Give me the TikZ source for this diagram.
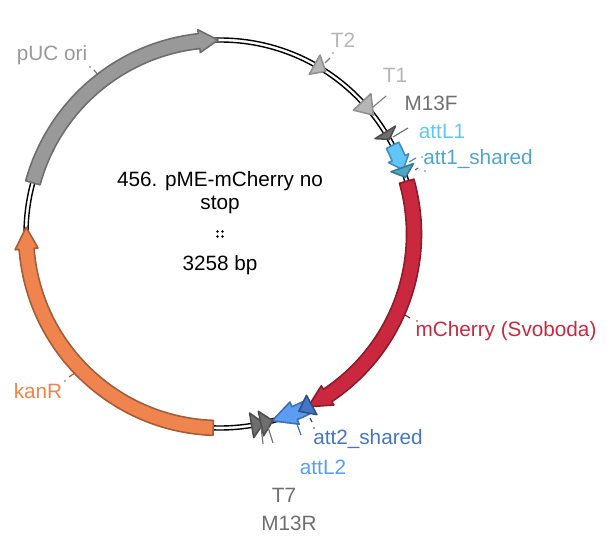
\documentclass[tikz,border=0pt]{standalone}
\usepackage{fontspec}
\setmainfont{Liberation Sans}
\definecolor{pucfill}{HTML}{999999}
\definecolor{pucedge}{HTML}{6E6E6E}
\definecolor{kanfill}{HTML}{EF844F}
\definecolor{kanedge}{HTML}{A55C38}
\definecolor{cherryfill}{HTML}{C9283F}
\definecolor{cherryedge}{HTML}{8C1C2C}
\definecolor{lonefill}{HTML}{62C6FB}
\definecolor{loneedge}{HTML}{3F8FB8}
\definecolor{oneshfill}{HTML}{4FA5C9}
\definecolor{oneshedge}{HTML}{3A7A95}
\definecolor{ltwofill}{HTML}{5B9DF3}
\definecolor{ltwoedge}{HTML}{3F6FAE}
\definecolor{twoshfill}{HTML}{4476C4}
\definecolor{twoshedge}{HTML}{2D5088}
\definecolor{termfill}{HTML}{B5B5B5}
\definecolor{primerfill}{HTML}{6F6F6F}
\tikzset{
	maplabel/.style={font=\fontsize{11.8}{13}\selectfont, inner sep=0pt},
	leader/.style={line width=0.65pt},
	feature/.style={line width=0.9pt, line join=round},
}
% arc arrow: style, tail angle, head base angle, tip angle, half band, half head
\newcommand{\arcarrow}[6]{
	\draw[feature, #1] (#2:194+#5) arc[start angle=#2, end angle=#3, radius=194+#5]
		-- (#3:194+#6) -- (#4:194) -- (#3:194-#6) -- (#3:194-#5)
		arc[start angle=#3, end angle=#2, radius=194-#5] -- cycle;
}
% bare head: style, base angle, tip angle, half width
\newcommand{\archead}[4]{
	\draw[feature, #1] (#2:194+#4) -- (#3:194) -- (#2:194-#4) -- cycle;
}
\begin{document}
\begin{tikzpicture}[x=0.02cm, y=0.02cm]
	\useasboundingbox (0,0) rectangle (607,551);

	\begin{scope}[shift={(220,317)}]
		% backbone
		\draw[line width=0.8pt] (0,0) circle (196);
		\draw[line width=0.8pt] (0,0) circle (192);

		\arcarrow{fill=pucfill, draw=pucedge}{164.7}{96.2}{90.6}{7.5}{11.5}
		\arcarrow{fill=kanfill, draw=kanedge}{268}{184.4}{178}{7.5}{11.5}
		\arcarrow{fill=cherryfill, draw=cherryedge}{15.8}{-56.3}{-63}{7.5}{11.5}
		\arcarrow{fill=ltwofill, draw=ltwoedge}{-63.5}{-67.4}{-74.4}{7}{12}
		\arcarrow{fill=lonefill, draw=loneedge}{27.2}{23}{19.3}{7}{11}

		\archead{fill=termfill, draw=termfill!80!black}{60.8}{57}{11}
		\archead{fill=termfill, draw=termfill!80!black}{42.9}{37.8}{12}
		\archead{fill=primerfill, draw=primerfill!70!black}{-80.6}{-77}{12.5}
		\archead{fill=primerfill, draw=primerfill!70!black}{-77.8}{-74.2}{12.5}
		\archead{fill=primerfill, draw=primerfill!70!black}{31.6}{29.2}{12}
		\archead{fill=oneshfill, draw=oneshedge}{20}{17}{12}
		\archead{fill=twoshfill, draw=twoshedge}{-61.8}{-66}{11}
	\end{scope}

	\node[maplabel, text=termfill] (t2) at (343,511) {T2};
	\node[maplabel, text=termfill] (t1) at (395,476) {T1};
	\node[maplabel, text=primerfill] (m13f) at (431,448) {M13F};
	\node[maplabel, text=lonefill] (attl1) at (442,420) {attL1};
	\node[maplabel, text=oneshfill] (attsh1) at (478,392) {att1\_shared};
	\node[maplabel, text=cherryfill] (cherry) at (506,220) {mCherry (Svoboda)};
	\node[maplabel, text=twoshfill] (attsh2) at (368,112) {att2\_shared};
	\node[maplabel, text=ltwofill] (attl2) at (323,84) {attL2};
	\node[maplabel, text=primerfill] (t7) at (284,56) {T7};
	\node[maplabel, text=primerfill] (m13r) at (289,28) {M13R};
	\node[maplabel, text=kanfill] (kan) at (38,160) {kanR};
	\node[maplabel, text=pucfill] (puc) at (52,496) {pUC ori};

	\node[maplabel, align=center] (title) at (220,358) {456. pME-mCherry no\\stop};
	\node[maplabel] (size) at (220,286) {3258 bp};
	\foreach \x/\y in {-2.5/-2.5, -2.5/2.5, 2.5/-2.5, 2.5/2.5} {\fill (220+\x,317+\y) circle (1.4);}

	% leaders next to the labels
	\foreach \ax/\ay/\bx/\by/\col in {325/488/330/493/termfill!70!black, 373/444/386/455/termfill!70!black,
		393/414/408/423/primerfill, 409/389/416/393/loneedge, 415/381/418/383/oneshedge,
		405/236/410/233/cherryedge, 310/133/312/129/twoshedge, 297/127/301/116/ltwoedge,
		261/124/263/107/primerfill, 268/124/273/108/primerfill, 75/178/69/174/kanedge, 98/476/94/481/pucedge}
		{\draw[leader, \col] (\ax,\ay) -- (\bx,\by);}
	\foreach \x/\y/\col in {333/498/termfill!70!black, 422/394/loneedge, 425/380/oneshedge,
		417/230/cherryedge, 314/123/twoshedge, 65/170/kanedge, 90/484/pucedge}
		{\fill[\col] (\x,\y) circle (0.8);}
\end{tikzpicture}
\end{document}
